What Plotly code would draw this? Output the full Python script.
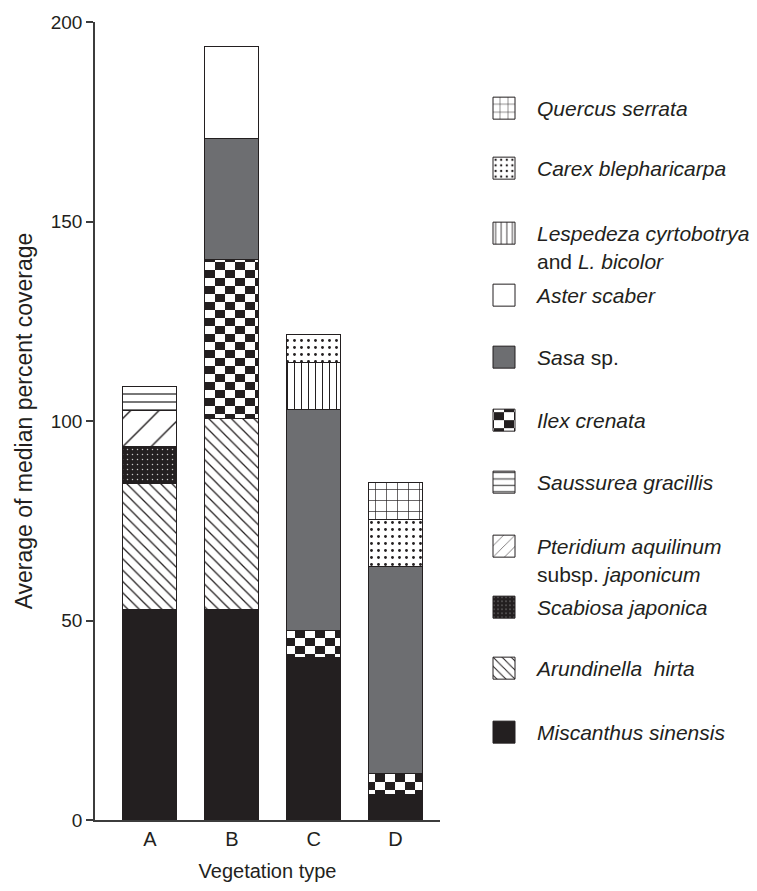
import plotly.graph_objects as go

# Vegetation types on the x axis
categories = ["A", "B", "C", "D"]

# Average of median percent coverage per species (stack segment heights)
miscanthus = [52.7, 52.7, 40.7, 6.3]
arundinella = [31.7, 48.0, None, None]
scabiosa = [9.2, None, None, None]
pteridium = [9.1, None, None, None]
saussurea = [6.0, None, None, None]
ilex = [None, 39.7, 6.7, 5.3]
sasa = [None, 30.5, 55.6, 52.0]
aster = [None, 23.0, None, None]
lespedeza = [None, None, 11.7, None]
carex = [None, None, 7.0, 11.7]
quercus = [None, None, None, 9.3]

y_ticks = [0, 50, 100, 150, 200]

INK = "#231f20"
FONT = "Liberation Sans, Arial, sans-serif"

# (label, values, fill colour, pattern shape, pattern fg, pattern size, solidity)
series = [
    ("<i>Miscanthus sinensis</i>", miscanthus, INK, "", INK, 8, 0.2),
    ("<i>Arundinella\u00a0 hirta</i>", arundinella, "white", "\\", INK, 8, 0.16),
    ("<i>Scabiosa japonica</i>", scabiosa, INK, ".", "#c8c8c8", 5, 0.07),
    ("<i>Pteridium aquilinum</i><br>subsp. <i>japonicum</i>", pteridium, "white", "/", INK, 20, 0.07),
    ("<i>Saussurea gracillis</i>", saussurea, "white", "-", "#555555", 8, 0.2),
    ("<i>Ilex crenata</i>", ilex, "white", "+", INK, 10, 0.55),
    ("<i>Sasa</i> sp.", sasa, "#6d6e71", "", INK, 8, 0.2),
    ("<i>Aster scaber</i>", aster, "white", "", INK, 8, 0.2),
    ("<i>Lespedeza cyrtobotrya</i><br>and <i>L. bicolor</i>", lespedeza, "white", "|", INK, 7, 0.15),
    ("<i>Carex blepharicarpa</i>", carex, "white", ".", INK, 7, 0.13),
    ("<i>Quercus serrata</i>", quercus, "white", "+", INK, 11, 0.12),
]

# vertical centre (px from the top) of each legend key
key_centres = [733, 669, 608, 547, 483, 421, 358, 296, 234, 169, 109]

W, H = 757, 891

fig = go.Figure()
for i, (name, vals, color, shape, fg, size, sol) in enumerate(series):
    legend_id = "legend" if i == 0 else f"legend{i + 1}"
    fig.add_trace(go.Bar(
        x=categories,
        y=vals,
        name=name,
        width=0.66,
        marker=dict(
            color=color,
            line=dict(color=INK, width=1),
            pattern=dict(shape=shape, fgcolor=fg, bgcolor=color,
                         size=size, solidity=sol, fillmode="replace"),
        ),
        legend=legend_id,
        showlegend=True,
        hoverinfo="skip",
    ))

legend_layout = {}
for i, yc in enumerate(key_centres):
    legend_id = "legend" if i == 0 else f"legend{i + 1}"
    legend_layout[legend_id] = dict(
        xref="container", yref="container",
        x=471 / W, y=1 - (yc - 21) / H,
        xanchor="left", yanchor="top",
        valign="top",
        itemwidth=56,
        bgcolor="rgba(0,0,0,0)",
        font=dict(family=FONT, size=21, color=INK),
        itemclick=False, itemdoubleclick=False,
    )

fig.update_layout(
    width=W, height=H,
    margin=dict(l=95, r=W - 440, t=22, b=H - 822),
    paper_bgcolor="white", plot_bgcolor="white",
    barmode="stack",
    showlegend=True,
    font=dict(family=FONT, size=19, color=INK),
    xaxis=dict(
        type="category",
        range=[-0.672, 3.544],
        showline=True, linecolor="#3c3c3c", linewidth=1.5,
        ticks="", showgrid=False, zeroline=False,
        tickfont=dict(size=20, color=INK),
        title=dict(text="Vegetation type", font=dict(size=20, color=INK), standoff=15),
    ),
    yaxis=dict(
        range=[0, 200],
        tickvals=y_ticks,
        showline=True, linecolor="#3c3c3c", linewidth=1.5,
        ticks="outside", ticklen=7, tickcolor="#3c3c3c", tickwidth=1.5,
        showgrid=False, zeroline=False,
        tickfont=dict(size=19, color=INK),
        title=dict(text="Average of median percent coverage",
                   font=dict(size=23, color=INK), standoff=12),
    ),
    **legend_layout,
)

# Enlarge the legend keys to 22 px squares and give Ilex crenata a
# staggered black-and-white checker fill (bars and legend key).
post = """
var gd = document.getElementById('{plot_id}');
var SVGNS = 'http://www.w3.org/2000/svg';
function ensureChecker() {
  if (!document.getElementById('ilex-style')) {
    var st = document.createElement('style');
    st.id = 'ilex-style';
    st.textContent = '.ilex-fill { fill: url(#ilex-checker) !important; }';
    document.head.appendChild(st);
  }
  if (document.getElementById('ilex-checker')) return;
  var defs = gd.querySelector('svg.main-svg defs');
  var pat = document.createElementNS(SVGNS, 'pattern');
  pat.setAttribute('id', 'ilex-checker');
  pat.setAttribute('patternUnits', 'userSpaceOnUse');
  pat.setAttribute('width', '20');
  pat.setAttribute('height', '16');
  var cells = [[0, 0, 20, 16, 'white'], [0, 0, 10, 8, '#231f20'], [10, 8, 10, 8, '#231f20']];
  cells.forEach(function(c) {
    var r = document.createElementNS(SVGNS, 'rect');
    r.setAttribute('x', c[0]); r.setAttribute('y', c[1]);
    r.setAttribute('width', c[2]); r.setAttribute('height', c[3]);
    r.setAttribute('fill', c[4]);
    pat.appendChild(r);
  });
  defs.appendChild(pat);
}
function restyleMarks() {
  ensureChecker();
  gd.querySelectorAll('.legendpoints path').forEach(function(p) {
    p.setAttribute('d', 'M11,11H-11V-11H11Z');
  });
  var barTraces = gd.querySelectorAll('.barlayer .trace');
  if (barTraces.length > 5) {
    barTraces[5].querySelectorAll('path').forEach(function(p) {
      p.classList.add('ilex-fill');
    });
  }
  gd.querySelectorAll('g.traces').forEach(function(g) {
    if ((g.textContent || '').indexOf('Ilex') >= 0) {
      g.querySelectorAll('path').forEach(function(p) {
        p.classList.add('ilex-fill');
      });
    }
  });
}
restyleMarks();
gd.on('plotly_afterplot', restyleMarks);
setTimeout(restyleMarks, 200);
setTimeout(restyleMarks, 800);
"""

fig.write_html("out.html", post_script=post)
